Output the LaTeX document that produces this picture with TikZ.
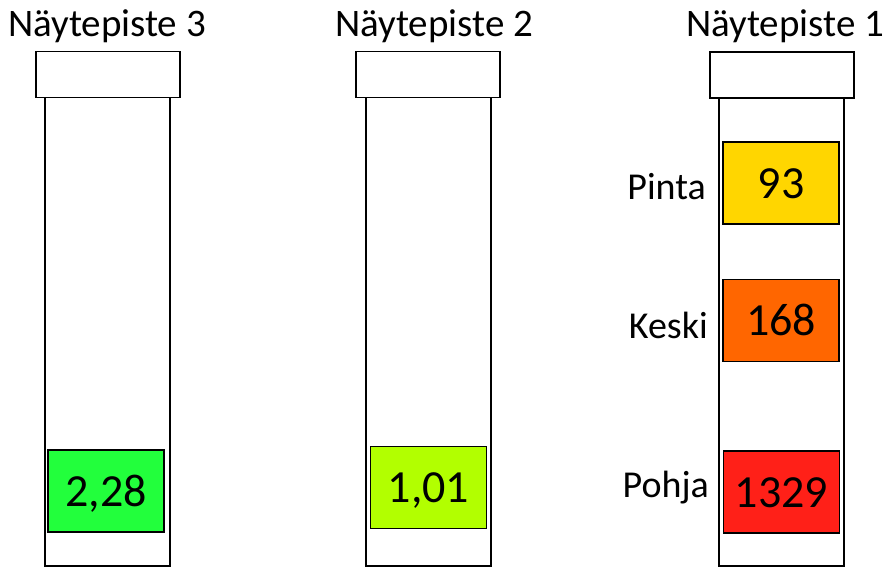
\documentclass[tikz,border=0pt]{standalone}
\usepackage{fontspec}
\setmainfont{Carlito}
\definecolor{cyellow}{RGB}{255,214,0}
\definecolor{corange}{RGB}{255,102,0}
\definecolor{cred}{RGB}{255,32,24}
\definecolor{cgreen}{RGB}{34,255,60}
\definecolor{clime}{RGB}{178,255,0}
\begin{document}
\begin{tikzpicture}[x=1pt,y=-1pt,
  tubecap/.style={draw,line width=1.8pt,minimum width=144pt,minimum height=46pt,inner sep=0pt},
  tubebody/.style={draw,line width=1.8pt,minimum width=125pt,minimum height=469pt,inner sep=0pt},
  valbox/.style={draw,line width=1.5pt,minimum width=116pt,minimum height=82pt,inner sep=0pt,
    font=\fontsize{46}{50}\selectfont,text height=30pt,text depth=0pt},
  title/.style={anchor=base,font=\fontsize{39}{42}\selectfont,inner sep=0pt},
  lab/.style={anchor=base east,font=\fontsize{38}{42}\selectfont,inner sep=0pt}]
\useasboundingbox (0,0) rectangle (888,566);
% tube 3
\node[tubebody] (b3) at (107.5,331.5) {};
\node[tubecap,fill=white] (c3) at (108,74.5) {};
\node[valbox,fill=cgreen] (v3) at (106,491) {2,28};
\node[title] (t3) at (107,36) {Näytepiste 3};
% tube 2
\node[tubebody] (b2) at (428.5,331.5) {};
\node[tubecap,fill=white] (c2) at (428,74.5) {};
\node[valbox,fill=clime] (v2) at (428.5,487.5) {1,01};
\node[title] (t2) at (434,36) {Näytepiste 2};
% tube 1
\node[tubebody] (b1) at (781.5,331.5) {};
\node[tubecap,fill=white] (c1) at (782,75) {};
\node[valbox,fill=cyellow] (v1a) at (781,183) {93};
\node[valbox,fill=corange] (v1b) at (781,320.5) {168};
\node[valbox,fill=cred] (v1c) at (781.5,492) {1329};
\node[title] (t1) at (785,36) {Näytepiste 1};
\node[lab] (l1) at (706,199) {Pinta};
\node[lab] (l2) at (708,338) {Keski};
\node[lab] (l3) at (709,497) {Pohja};
\end{tikzpicture}
\end{document}
